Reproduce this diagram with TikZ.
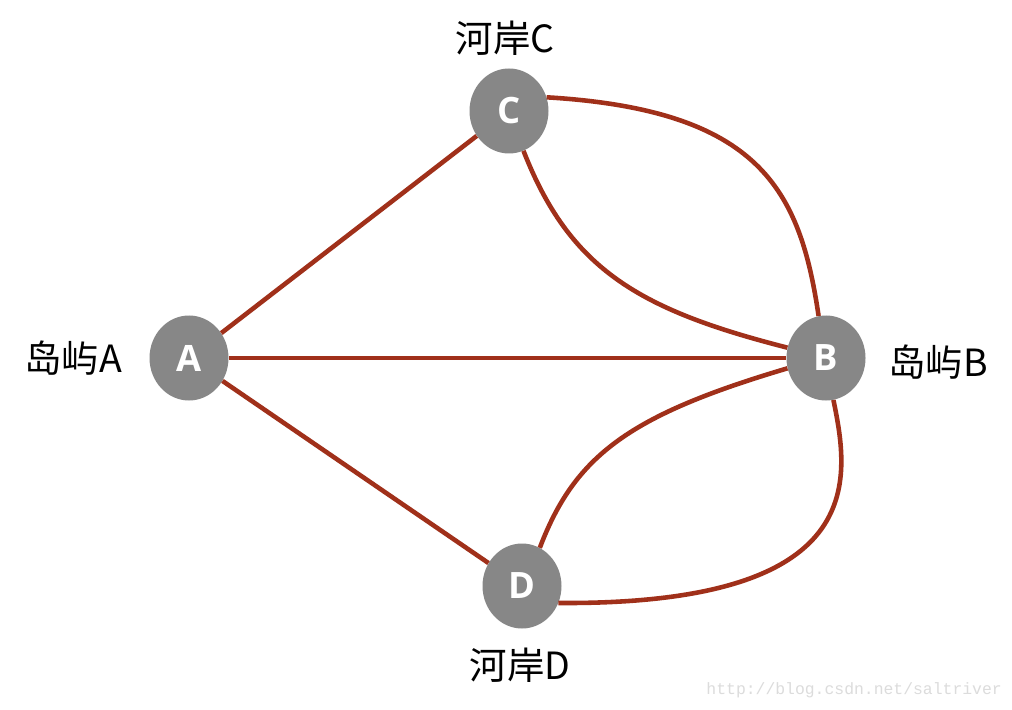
\documentclass[tikz,border=0pt]{standalone}
\usepackage{fontspec}
\usetikzlibrary{shapes.geometric}
\newfontfamily\cjk{Noto Sans CJK SC}
\newfontfamily\nodefont{Open Sans}
\newfontfamily\wmfont{Liberation Mono}
\definecolor{edgered}{HTML}{A0301A}
\definecolor{nodegray}{HTML}{878787}
\definecolor{wmgray}{HTML}{DCDCDC}
\begin{document}
\begin{tikzpicture}[x=0.03cm,y=-0.03cm,
  vertex/.style={ellipse,fill=nodegray,minimum width=79*0.03cm,minimum height=85*0.03cm,inner sep=0pt,text=white,font=\nodefont\fontsize{31}{31}\selectfont\bfseries},
  lbl/.style={font=\cjk\fontsize{32}{32}\selectfont,text=black,inner sep=0pt},
  edge/.style={draw=edgered,line width=3.9pt}]
\useasboundingbox (0,0) rectangle (1012,710);
\fill[white] (0,0) rectangle (1012,710);
\node[vertex] (A) at (189,358) {\raisebox{-2pt}{A}};
\node[vertex] (C) at (509,111) {\raisebox{-2pt}{C}};
\node[vertex] (B) at (826,358) {\raisebox{-2pt}{B}};
\node[vertex] (D) at (522,586) {\raisebox{-2pt}{D}};
\node[lbl] (lC) at (505,38) {河岸C};
\node[lbl] (lA) at (73,358) {岛屿A};
\node[lbl] (lB) at (938,362) {岛屿B};
\node[lbl] (lD) at (520,665) {河岸D};
\node[font=\wmfont\fontsize{14}{14}\selectfont,text=wmgray,anchor=east,inner sep=0pt] (wm) at (1002,690) {http://blog.csdn.net/saltriver};
\draw[edge] (A) -- (C);
\draw[edge] (A) -- (B);
\draw[edge] (A) -- (D);
\draw[edge] (C.20) .. controls (760,110) and (800,190) .. (B.100);
\draw[edge] (C.-70) .. controls (570,270) and (640,310) .. (B.165);
\draw[edge] (B.195) .. controls (630,415) and (575,455) .. (D.65);
\draw[edge] (B.-80) .. controls (850,480) and (870,605) .. (D.-25);
\end{tikzpicture}
\end{document}
